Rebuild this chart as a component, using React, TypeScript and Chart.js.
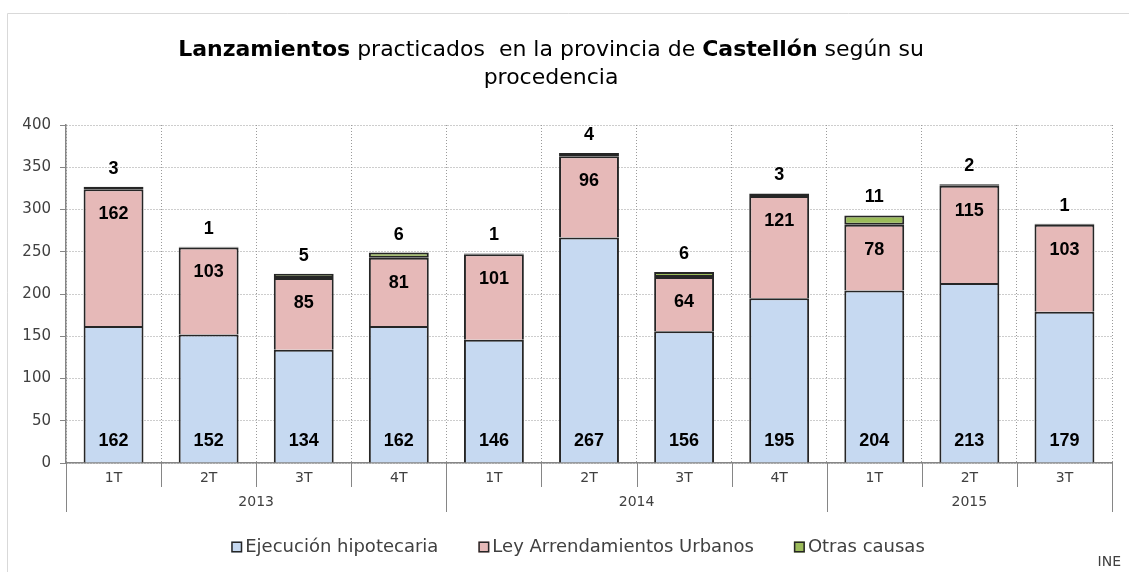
import React, { useEffect, useRef } from "react";
import { Chart, registerables } from "chart.js";

Chart.register(...registerables);

const quarters = ["1T", "2T", "3T", "4T", "1T", "2T", "3T", "4T", "1T", "2T", "3T"];
const years = ["2013", "2014", "2015"];
const yearSpans = [4, 4, 3];
const ejecucion = [162, 152, 134, 162, 146, 267, 156, 195, 204, 213, 179];
const arrendamientos = [162, 103, 85, 81, 101, 96, 64, 121, 78, 115, 103];
const otras = [3, 1, 5, 6, 1, 4, 6, 3, 11, 2, 1];
const seriesNames = ["Ejecución hipotecaria", "Ley Arrendamientos Urbanos", "Otras causas"];
const seriesColors = ["#C6D9F1", "#E6B9B8", "#9BBB59"];
const titleLine1 = [
  { t: "Lanzamientos", b: true },
  { t: " practicados  en la provincia de ", b: false },
  { t: "Castellón", b: true },
  { t: " según su", b: false },
];
const titleLine2 = "procedencia";
const sourceText = "INE";

const FONT = "'DejaVu Sans', sans-serif";
const LABEL_FONT = "bold 18px 'Liberation Sans', Arial, sans-serif";
const TEXT_COLOR = "#404040";
const AXIS_COLOR = "#868686";

const decorPlugin = {
  id: "decor",
  afterDatasetsDraw(chart: any) {
    const ctx = chart.ctx as CanvasRenderingContext2D;
    ctx.save();
    ctx.font = LABEL_FONT;
    ctx.fillStyle = "#000000";
    ctx.textAlign = "center";
    ctx.textBaseline = "middle";
    const m0 = chart.getDatasetMeta(0);
    const m1 = chart.getDatasetMeta(1);
    const m2 = chart.getDatasetMeta(2);
    m0.data.forEach((el: any, i: number) => {
      ctx.fillText(String(ejecucion[i]), el.x, el.base - 21);
    });
    m1.data.forEach((el: any, i: number) => {
      ctx.fillText(String(arrendamientos[i]), el.x, el.y + 25);
    });
    m2.data.forEach((el: any, i: number) => {
      ctx.fillText(String(otras[i]), el.x, el.y - 18);
    });
    ctx.restore();
  },
  afterDraw(chart: any) {
    const ctx = chart.ctx as CanvasRenderingContext2D;
    const W = chart.width;
    const H = chart.height;
    const xs = chart.scales.x;
    const area = chart.chartArea;
    ctx.save();

    // outer frame
    ctx.strokeStyle = "#D9D9D9";
    ctx.lineWidth = 1;
    ctx.beginPath();
    ctx.moveTo(7.5, H);
    ctx.lineTo(7.5, 13.5);
    ctx.lineTo(W, 13.5);
    ctx.stroke();

    // title with mixed weights
    const cx = 551;
    ctx.fillStyle = "#000000";
    ctx.textBaseline = "middle";
    ctx.textAlign = "left";
    const boldF = `bold 22px ${FONT}`;
    const normF = `22px ${FONT}`;
    let total = 0;
    titleLine1.forEach((p) => {
      ctx.font = p.b ? boldF : normF;
      total += ctx.measureText(p.t).width;
    });
    let x = cx - total / 2;
    titleLine1.forEach((p) => {
      ctx.font = p.b ? boldF : normF;
      ctx.fillText(p.t, x, 50);
      x += ctx.measureText(p.t).width;
    });
    ctx.font = normF;
    ctx.textAlign = "center";
    ctx.fillText(titleLine2, cx, 78);

    // category separators & year groups
    const n = quarters.length;
    const catW = (xs.right - xs.left) / n;
    const groupEdges = new Set<number>();
    let acc = 0;
    groupEdges.add(0);
    yearSpans.forEach((s) => {
      acc += s;
      groupEdges.add(acc);
    });
    ctx.strokeStyle = AXIS_COLOR;
    ctx.lineWidth = 1;
    for (let i = 0; i <= n; i++) {
      const px = Math.round(xs.left + i * catW) + 0.5;
      ctx.beginPath();
      ctx.moveTo(px, area.bottom);
      ctx.lineTo(px, groupEdges.has(i) ? 512 : 487);
      ctx.stroke();
    }
    ctx.fillStyle = TEXT_COLOR;
    ctx.font = `14px ${FONT}`;
    ctx.textAlign = "center";
    let start = 0;
    years.forEach((yr, k) => {
      const end = start + yearSpans[k];
      const mid = xs.left + ((start + end) / 2) * catW;
      ctx.fillText(yr, mid, 502);
      start = end;
    });

    // legend
    ctx.font = `18px ${FONT}`;
    const box = 11;
    const gapBox = 3;
    const gapItem = 40;
    const widths = seriesNames.map((s) => ctx.measureText(s).width);
    const legendW =
      widths.reduce((a, b) => a + b, 0) + seriesNames.length * (box + gapBox) + gapItem * (seriesNames.length - 1);
    let lx = 578 - legendW / 2;
    const ly = 547;
    seriesNames.forEach((s, i) => {
      ctx.fillStyle = seriesColors[i];
      ctx.fillRect(lx, ly - box / 2, box, box);
      ctx.strokeStyle = "#262626";
      ctx.lineWidth = 1.5;
      ctx.strokeRect(lx + 0.75, ly - box / 2 + 0.75, box - 1.5, box - 1.5);
      ctx.fillStyle = TEXT_COLOR;
      ctx.textAlign = "left";
      ctx.fillText(s, lx + box + gapBox, ly);
      lx += box + gapBox + widths[i] + gapItem;
    });

    // source
    ctx.font = `14px ${FONT}`;
    ctx.textAlign = "right";
    ctx.fillStyle = TEXT_COLOR;
    ctx.fillText(sourceText, 1121, 562);

    ctx.restore();
  },
};

export default function App() {
  const canvasRef = useRef<HTMLCanvasElement | null>(null);

  useEffect(() => {
    if (!canvasRef.current) return;
    const common = {
      borderColor: "#262626",
      borderWidth: 2,
      borderSkipped: "start",
      barPercentage: 0.63,
      categoryPercentage: 1.0,
    };
    const chart = new Chart(canvasRef.current, {
      type: "bar",
      data: {
        labels: quarters,
        datasets: [
          { label: seriesNames[0], data: ejecucion, backgroundColor: seriesColors[0], ...common },
          { label: seriesNames[1], data: arrendamientos, backgroundColor: seriesColors[1], ...common },
          {
            label: seriesNames[2],
            data: otras,
            backgroundColor: seriesColors[2],
            ...common,
            borderSkipped: false,
          },
        ],
      } as any,
      options: {
        animation: false,
        responsive: false,
        devicePixelRatio: 1,
        layout: { padding: { top: 125, right: 17, left: 0, bottom: 0 } },
        plugins: {
          legend: { display: false },
          title: { display: false },
          tooltip: { enabled: false },
        },
        scales: {
          x: {
            stacked: true,
            afterFit: (s: any) => {
              s.height = 109;
            },
            grid: {
              offset: true,
              color: "#9A9A9A",
              lineWidth: 1,
              drawTicks: false,
            },
            border: { display: true, color: AXIS_COLOR, width: 1.5, dash: [1, 2] },
            ticks: {
              color: TEXT_COLOR,
              font: { family: FONT, size: 14 },
              padding: 7,
              maxRotation: 0,
              autoSkip: false,
            },
          },
          y: {
            stacked: true,
            min: 0,
            max: 400,
            afterFit: (s: any) => {
              s.width = 66;
            },
            grid: {
              color: "#9A9A9A",
              lineWidth: 1,
              drawTicks: true,
              tickLength: 6,
              tickColor: AXIS_COLOR,
              tickBorderDash: [],
            },
            border: { display: true, color: AXIS_COLOR, width: 1.5, dash: [1, 2] },
            ticks: {
              stepSize: 50,
              color: TEXT_COLOR,
              font: { family: FONT, size: 15 },
              padding: 9,
            },
          },
        },
      } as any,
      plugins: [decorPlugin],
    });
    return () => chart.destroy();
  }, []);

  return (
    <div style={{ position: "fixed", left: 0, top: 0, width: 1129, height: 572, background: "#ffffff" }}>
      <canvas ref={canvasRef} width={1129} height={572} style={{ display: "block", width: 1129, height: 572 }} />
    </div>
  );
}
